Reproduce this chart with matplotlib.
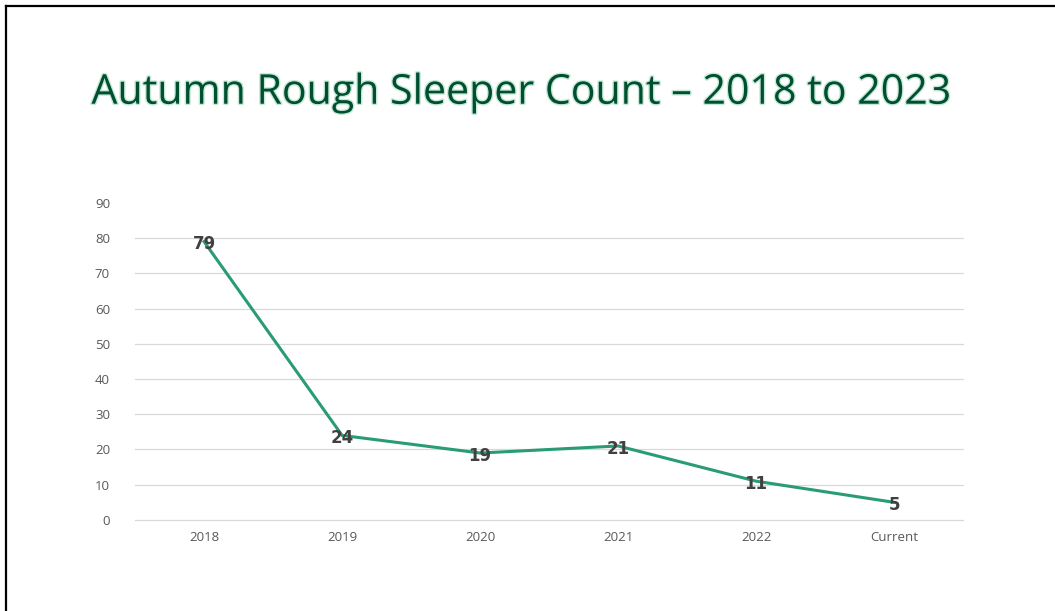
import matplotlib.pyplot as plt
from matplotlib.lines import Line2D
import matplotlib.patheffects as pe

categories = ["2018", "2019", "2020", "2021", "2022", "Current"]
counts = [79, 24, 19, 21, 11, 5]
y_ticks = [0, 10, 20, 30, 40, 50, 60, 70, 80, 90]

LINE_COLOR = "#2a9b77"
TITLE_COLOR = "#00502f"
TICK_COLOR = "#595959"
LABEL_COLOR = "#404040"

fig = plt.figure(figsize=(10.55, 6.11), dpi=100)
ax = fig.add_axes([0.128, 0.149, 0.785, 0.519])

x = list(range(len(categories)))
ax.plot(x, counts, color=LINE_COLOR, linewidth=2.2, zorder=3)
for xi, value in zip(x, counts):
    ax.annotate(str(value), (xi, value), xytext=(0, -2), textcoords="offset points",
                ha="center", va="center", fontsize=12, fontweight="bold",
                color=LABEL_COLOR, family="DejaVu Sans", zorder=4)

ax.set_xlim(-0.5, len(categories) - 0.5)
ax.set_ylim(0, 90)
ax.set_xticks(x)
ax.set_xticklabels(categories)
ax.set_yticks(y_ticks)
for tick in y_ticks[:-1]:
    ax.axhline(tick, color="#d9d9d9", linewidth=0.9, zorder=1, clip_on=False)
for spine in ax.spines.values():
    spine.set_visible(False)
ax.tick_params(length=0, labelsize=9.5, labelcolor=TICK_COLOR, pad=8)
ax.tick_params(axis="y", pad=18)
for label in ax.get_xticklabels() + ax.get_yticklabels():
    label.set_family("Open Sans")

fig.text(0.494, 0.847, "Autumn Rough Sleeper Count \u2013 2018 to 2023", ha="center", va="center",
         fontsize=29.6, color=TITLE_COLOR, family="Open Sans",
         path_effects=[pe.withStroke(linewidth=2, foreground="#c6e8d9")])

# border lines on top and left edges
fig.add_artist(Line2D([0.006, 0.006], [0, 0.99], transform=fig.transFigure, color="black", linewidth=1.6))
fig.add_artist(Line2D([0.006, 1], [0.99, 0.99], transform=fig.transFigure, color="black", linewidth=1.6))

fig.savefig("out.png", dpi=100)
